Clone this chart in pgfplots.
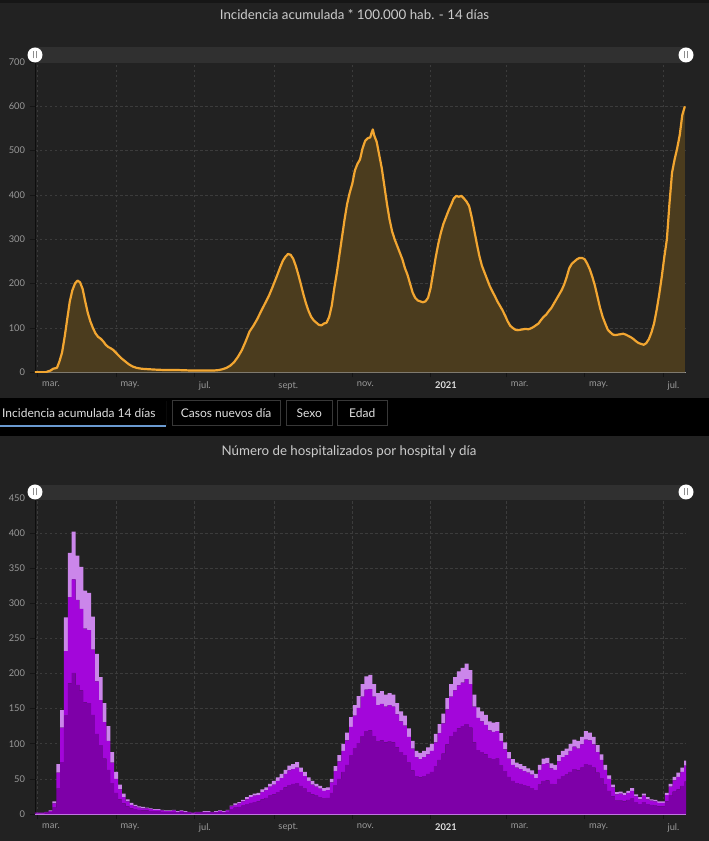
\documentclass[border=0pt]{standalone}
\usepackage{fontspec}
\setmainfont{Lato}
\usepackage{pgfplots}
\usepackage{pgfplotstable}
\pgfplotsset{compat=1.18}
\definecolor{bg}{HTML}{222222}
\definecolor{slider}{HTML}{303030}
\definecolor{gridc}{HTML}{3C3C3C}
\definecolor{tickc}{HTML}{9A9A9A}
\definecolor{orangeline}{HTML}{F2A631}
\definecolor{orangefill}{HTML}{4B3C1E}
\definecolor{pdark}{HTML}{7E00A8}
\definecolor{pmid}{HTML}{A306DA}
\definecolor{plight}{HTML}{CB86EA}
\definecolor{tabline}{HTML}{6A9AD0}

\pgfplotstableread{
d v
57.9 0
66 0
68 2
70 4
72 8
75 10
77 25
79 45
81 80
83 120
85 160
87 185
89 200
91 207
93 203
95 188
97 160
99 134
101 115
103 100
105 88
107 80
109 76
111 70
113 62
115 57
117 54
119 50
121 44
123 38
125 32
128 25
131 18
134 13
137 10
141 8
146 7
152 6
160 5
170 5
180 4
190 4
197 4
201 5
204 7
207 10
210 15
213 23
216 35
219 50
222 70
225 92
228 105
231 120
234 138
237 155
240 172
243 193
246 215
249 238
251 252
253 261
255 267
257 265
259 256
261 240
263 220
265 198
267 175
269 155
271 138
273 125
275 117
277 112
279 107
281 106
283 110
285 112
287 125
289 150
291 190
293 225
295 265
297 305
299 345
301 380
303 405
305 425
307 455
309 470
311 480
313 505
315 522
317 528
319 530
320 540
321 548
322 535
324 520
326 490
328 460
330 420
332 380
334 345
336 318
338 300
340 285
342 270
344 255
346 235
348 220
350 200
352 180
354 168
356 162
358 160
360 158
362 160
364 168
366 190
368 225
370 260
372 290
374 315
376 335
378 350
380 365
382 378
384 392
386 398
388 396
390 398
392 392
394 385
396 375
398 350
400 320
402 290
404 262
406 240
408 225
410 210
412 195
414 183
416 172
418 160
420 150
422 140
424 128
426 115
428 105
430 100
432 96
434 95
436 96
438 97
440 98
442 97
444 99
446 102
448 106
450 110
452 118
454 125
456 130
458 138
460 145
462 155
464 165
466 175
468 185
470 198
472 215
474 235
476 245
478 250
480 255
482 258
484 258
486 255
488 245
490 232
492 215
494 195
496 170
498 145
500 125
502 110
504 96
506 90
508 85
510 84
512 85
514 86
516 87
518 85
520 82
522 79
524 75
526 70
528 66
530 64
532 62
534 66
536 75
538 90
540 110
542 140
544 175
546 215
548 260
550 300
552 380
554 450
556 480
558 505
560 535
562 580
564 600
}\inc

\pgfplotstableread{
d a b c
58 1 1 0
61 1 1 0
64 1 1 0
67 2 1 0
70 3 1 1
73 9 6 3
76 36 23 12
79 74 49 25
82 140 92 48
85 186 123 63
88 201 133 68
91 184 121 63
94 176 116 60
97 159 105 54
100 158 104 53
103 141 93 47
106 114 75 39
109 98 64 33
112 79 52 27
115 63 41 21
118 44 29 15
121 30 20 10
124 21 14 7
127 15 9 5
130 11 7 3
133 8 5 3
136 7 4 2
139 6 3 2
142 5 3 2
145 5 3 1
148 4 3 1
151 4 2 1
154 4 2 1
157 3 2 1
160 3 1 1
163 3 1 1
166 3 2 1
169 2 1 1
172 3 1 1
175 2 1 1
178 2 1 0
181 1 1 0
184 2 1 0
187 2 1 0
190 2 1 1
193 2 1 1
196 2 1 0
199 2 1 1
202 3 1 1
205 2 1 1
208 3 2 1
211 7 4 1
214 9 4 2
217 10 5 2
220 12 6 2
223 14 7 3
226 16 8 3
229 17 9 3
232 18 9 3
235 21 10 4
238 23 11 4
241 26 13 4
244 28 14 5
247 31 16 5
250 34 17 6
253 38 19 6
256 41 21 7
259 43 21 7
262 44 22 8
265 40 20 6
268 36 18 6
271 31 16 5
274 28 14 5
277 26 13 4
280 24 12 4
283 22 11 4
286 23 11 4
289 30 15 5
292 41 20 7
295 50 25 9
298 60 30 10
301 70 35 11
304 83 41 14
307 93 47 15
310 101 50 17
313 111 56 18
316 118 59 19
319 119 59 20
322 111 56 18
325 103 52 17
328 105 52 18
331 102 51 17
334 103 52 17
337 102 51 17
340 95 47 16
343 88 44 14
346 84 42 14
349 73 37 12
352 62 31 11
355 54 27 9
358 52 26 9
361 54 27 9
364 57 28 10
367 60 30 10
370 68 34 12
373 77 38 13
376 86 43 14
379 99 50 16
382 111 56 18
385 117 59 19
388 122 61 20
391 125 62 21
394 128 64 22
397 123 62 20
400 102 51 17
403 91 46 15
406 88 44 14
409 85 42 14
412 79 40 13
415 78 39 13
418 79 39 13
421 69 35 11
424 61 31 10
427 53 26 9
430 47 23 8
433 44 22 7
436 43 21 7
439 41 20 7
442 39 20 6
445 37 19 6
448 34 17 6
451 42 21 7
454 47 24 8
457 48 24 8
460 43 22 7
463 42 21 7
466 50 25 9
469 54 27 9
472 56 28 9
475 60 30 10
478 64 32 10
481 62 31 11
484 66 33 11
487 71 35 12
490 70 35 11
493 66 33 11
496 59 29 10
499 51 26 8
502 42 21 7
505 33 17 5
508 25 13 4
511 19 9 3
514 19 10 3
517 18 9 3
520 20 10 3
523 22 11 4
526 17 8 3
529 14 7 3
532 17 9 3
535 14 7 3
538 13 6 2
541 12 6 2
544 11 5 2
547 11 5 2
550 18 9 3
553 26 13 4
556 32 16 5
559 35 18 6
562 40 20 6
565 46 23 7
}\hosp

\pgfplotsset{
  dash/.style={
    scale only axis, width=651pt,
    xmin=57.9, xmax=564.9, ymin=0,
    axis lines*=left,
    axis line style={draw=black!60!bg, line width=0.8pt},
    xtick={60,121,182,244,305,366,425,486,547},
    xticklabels={mar.,may.,jul.,sept.,nov.,{\textcolor{white!88!black}{\bfseries 2021}},mar.,may.,jul.},
    xticklabel style={anchor=north west, xshift=1pt, yshift=-1pt, font=\fontsize{9.3}{11}\selectfont, text=tickc},
    yticklabel style={font=\fontsize{9.3}{11}\selectfont, text=tickc, xshift=-1.5pt},
    /pgf/number format/assume math mode=true,
    /pgf/number format/1000 sep={},
    grid=major,
    major grid style={draw=gridc, dash pattern=on 2.5pt off 2.5pt, line width=0.6pt},
    tick align=outside,
    major tick length=5pt,
    tick style={draw=black!40!bg, line width=0.6pt},
  }
}

\begin{document}
\begin{tikzpicture}[x=1pt,y=1pt]
\useasboundingbox (0pt,0pt) rectangle (709pt,841pt);
\fill[bg] (0pt,0pt) rectangle (709pt,841pt);
\fill[black!35!bg] (0pt,838pt) rectangle (709pt,841pt);

% Title 1
\node[text=white!80!black, font=\fontsize{13.3}{15}\selectfont] at (354.5pt,826pt) {Incidencia acumulada * 100.000 hab. - 14 días};

% top chart
\begin{axis}[dash,
  at={(35pt,468.7pt)}, anchor=south west,
  height=310.3pt, ymax=700,
  ytick={0,100,...,700},
  x axis line style={draw=white!55!bg, line width=1pt},
]
\addplot[fill=orangefill, draw=none] table[x=d,y=v] {\inc} \closedcycle;
\addplot[draw=orangeline, line width=2.2pt, line join=round] table[x=d,y=v] {\inc};
\end{axis}

% slider 1
\fill[slider] (35pt,778pt) rectangle (686pt,794pt);
\foreach \hx in {35,686} {
  \fill[white] (\hx pt,786pt) circle (7.5pt);
  \draw[black!45, line width=0.6pt] (\hx pt-1.3pt,782.5pt) -- (\hx pt-1.3pt,789.5pt) (\hx pt+1.3pt,782.5pt) -- (\hx pt+1.3pt,789.5pt);
}

% tab strip
\fill[black] (0pt,405pt) rectangle (709pt,443pt);
\node[anchor=west, text=white!88!black, font=\fontsize{12}{14}\selectfont, inner sep=0pt] at (2pt,428pt) {Incidencia acumulada 14 días};
\draw[tabline, line width=1.6pt] (0pt,415pt) -- (166pt,415pt);
\draw[black!70!bg, line width=0.8pt] (166.5pt,415.3pt) -- (166.5pt,440.3pt);
\draw[white!22!black, line width=0.8pt] (172pt,415.3pt) rectangle (280.5pt,440.3pt);
\node[text=white!88!black, font=\fontsize{12}{14}\selectfont] at (226.2pt,427.8pt) {Casos nuevos día};
\draw[white!22!black, line width=0.8pt] (286pt,415.3pt) rectangle (332.6pt,440.3pt);
\node[text=white!88!black, font=\fontsize{12}{14}\selectfont] at (309.3pt,427.8pt) {Sexo};
\draw[white!22!black, line width=0.8pt] (337.5pt,415.3pt) rectangle (387pt,440.3pt);
\node[text=white!88!black, font=\fontsize{12}{14}\selectfont] at (362.2pt,427.8pt) {Edad};

% Title 2
\node[text=white!80!black, font=\fontsize{13.3}{15}\selectfont] at (349pt,389pt) {Número de hospitalizados por hospital y día};

% bottom chart
\begin{axis}[dash,
  at={(35pt,27pt)}, anchor=south west,
  height=316pt, ymax=450,
  ytick={0,50,...,450},
  ybar stacked, bar width=3.1,
  x axis line style={draw=plight, line width=1.4pt},
]
\addplot[fill=pdark, draw=none] table[x=d,y=a] {\hosp};
\addplot[fill=pmid, draw=none] table[x=d,y=b] {\hosp};
\addplot[fill=plight, draw=none] table[x=d,y=c] {\hosp};
\end{axis}

% slider 2
\fill[slider] (35pt,341pt) rectangle (686pt,356pt);
\foreach \hx in {35,686} {
  \fill[white] (\hx pt,349pt) circle (7.5pt);
  \draw[black!45, line width=0.6pt] (\hx pt-1.3pt,345.5pt) -- (\hx pt-1.3pt,352.5pt) (\hx pt+1.3pt,345.5pt) -- (\hx pt+1.3pt,352.5pt);
}
\end{tikzpicture}
\end{document}
